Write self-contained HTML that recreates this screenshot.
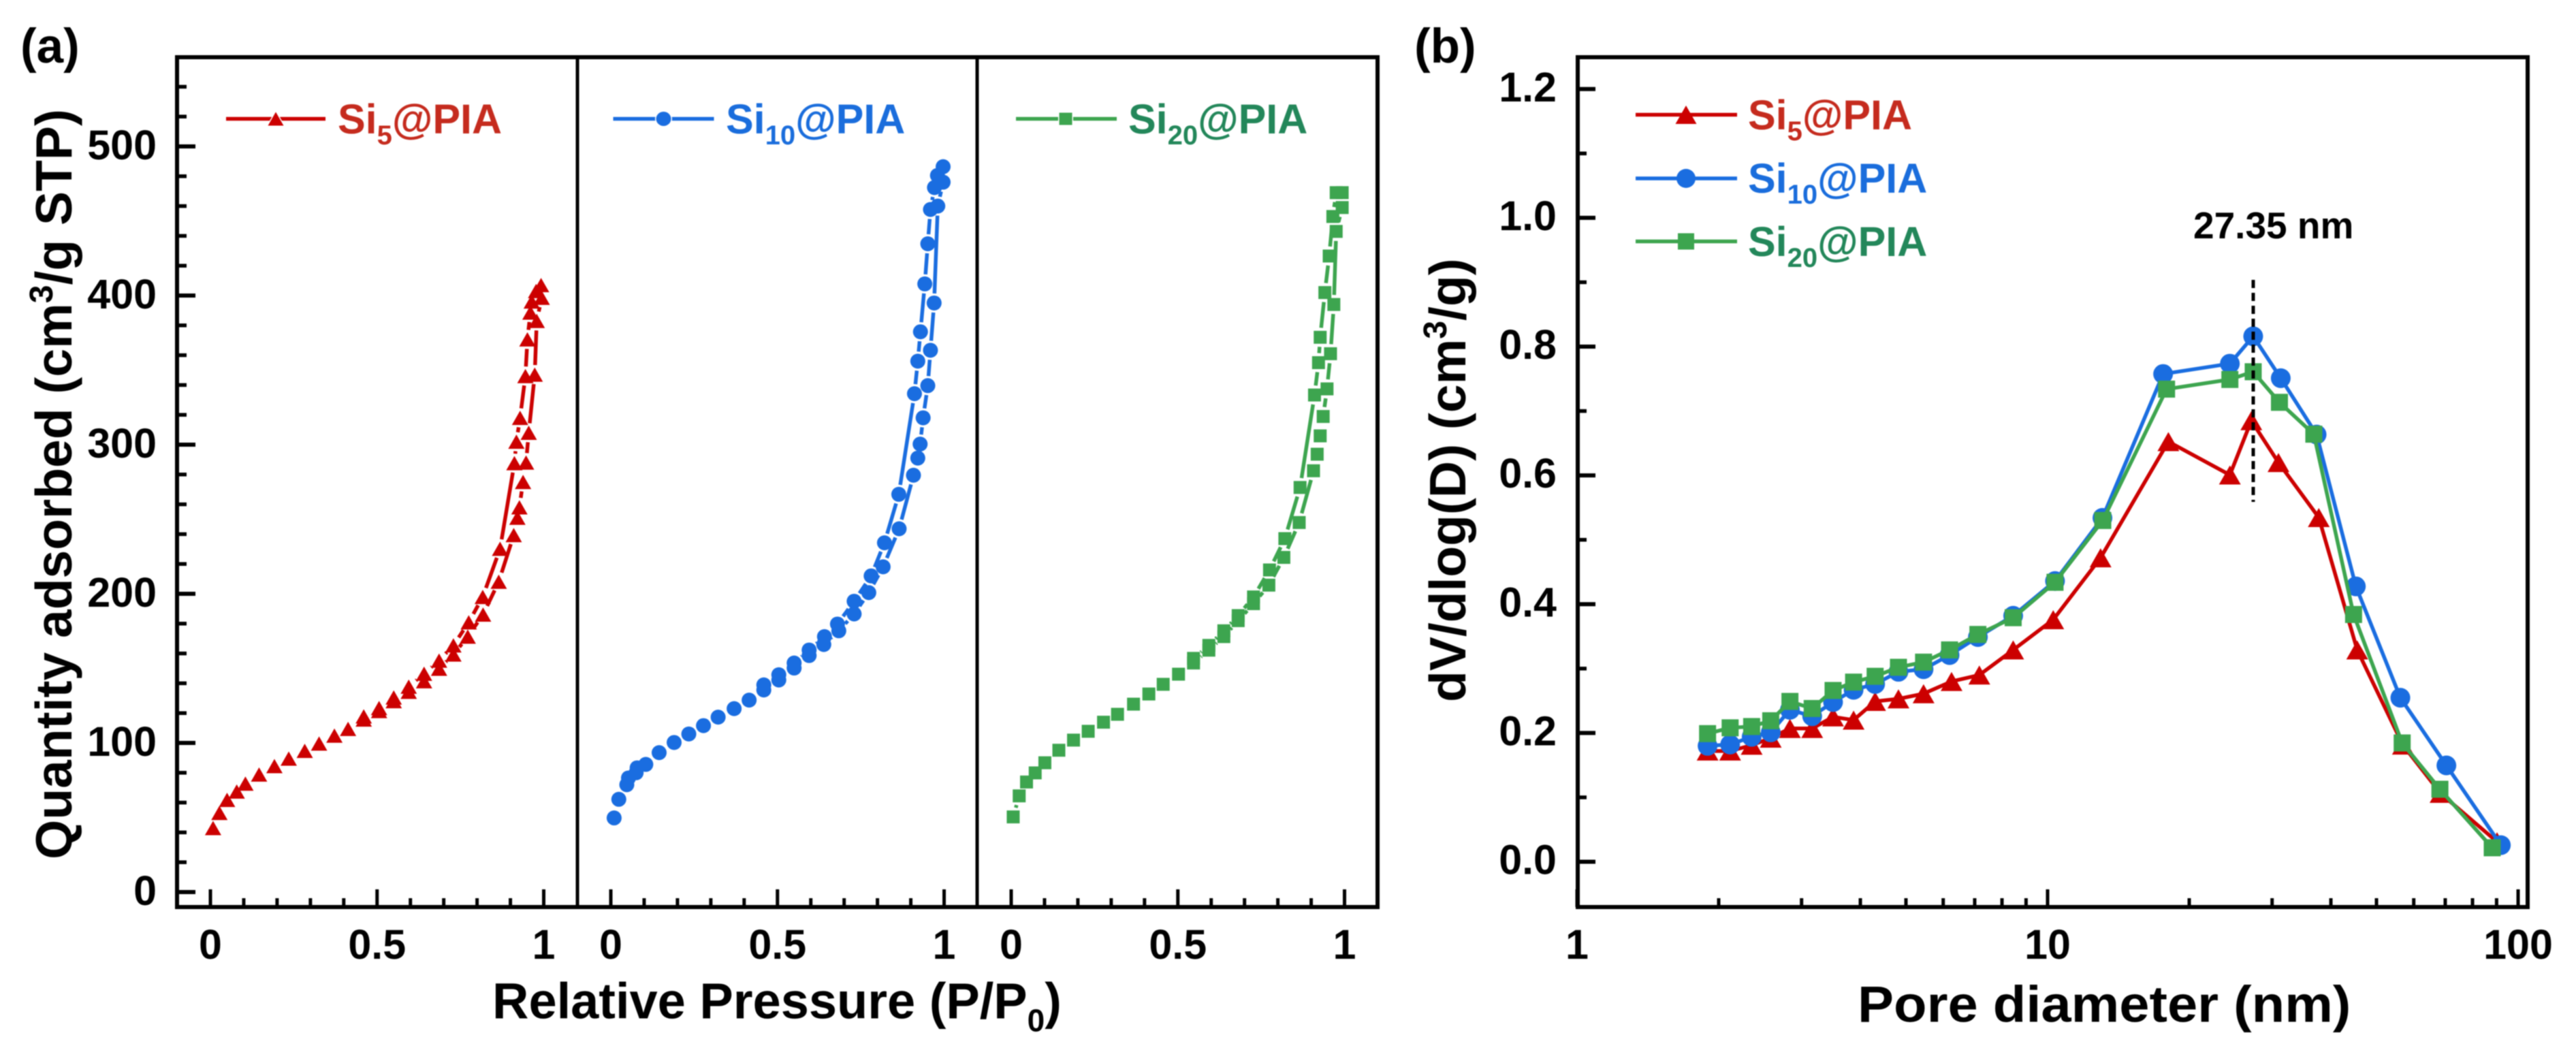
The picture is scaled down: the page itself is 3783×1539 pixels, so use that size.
<!DOCTYPE html>
<html lang="en">
<head>
<meta charset="utf-8">
<title>Si@PIA nitrogen sorption isotherms and pore size distribution</title>
<style>
html,body{margin:0;padding:0;background:#fff;overflow:hidden;}
svg{display:block;filter:blur(0.8px);}
text{font-family:"Liberation Sans",Arial,sans-serif;font-weight:bold;fill:#000;}
</style>
</head>
<body>
<svg id="figure" xmlns="http://www.w3.org/2000/svg" width="3783" height="1539" viewBox="0 0 3783 1539">
  <rect x="0" y="0" width="3783" height="1539" fill="#ffffff"/>

  <text x="30" y="92" font-size="71">(a)</text>
  <text x="2077" y="92" font-size="71">(b)</text>

  <text transform="translate(105,1262) rotate(-90)" font-size="75">Quantity adsorbed (cm<tspan font-size="48" dy="-28">3</tspan><tspan dy="28">/g STP)</tspan></text>
  <text x="723" y="1495.5" font-size="74">Relative Pressure (P/P<tspan font-size="46" dy="19">0</tspan><tspan dy="-19">)</tspan></text>
  <text transform="translate(2152,1031) rotate(-90)" font-size="75">dV/dlog(D) (cm<tspan font-size="48" dy="-28">3</tspan><tspan dy="28">/g)</tspan></text>
  <text transform="translate(2728,1500.5) scale(1.06,1)" font-size="75">Pore diameter (nm)</text>

  <g id="isotherm-axes"></g>
  <g id="pore-axes"></g>
  <g id="isotherm-series"></g>
  <g id="pore-series"></g>

  <line x1="3309" y1="411" x2="3309" y2="737" stroke="#000" stroke-width="5" stroke-dasharray="12 7"/>
  <text x="3221" y="350" font-size="55">27.35 nm</text>

  <g id="legends">
    <text x="496" y="196" font-size="61" style="fill:#c52b1e">Si<tspan font-size="40" dy="16">5</tspan><tspan dy="-16">@PIA</tspan></text>
    <text x="1066" y="196" font-size="61" style="fill:#1a6ddc">Si<tspan font-size="40" dy="16">10</tspan><tspan dy="-16">@PIA</tspan></text>
    <text x="1657" y="196" font-size="61" style="fill:#23875a">Si<tspan font-size="40" dy="16">20</tspan><tspan dy="-16">@PIA</tspan></text>
    <text x="2567" y="190" font-size="61" style="fill:#c52b1e">Si<tspan font-size="40" dy="16">5</tspan><tspan dy="-16">@PIA</tspan></text>
    <text x="2567" y="283" font-size="61" style="fill:#1a6ddc">Si<tspan font-size="40" dy="16">10</tspan><tspan dy="-16">@PIA</tspan></text>
    <text x="2567" y="376" font-size="61" style="fill:#23875a">Si<tspan font-size="40" dy="16">20</tspan><tspan dy="-16">@PIA</tspan></text>
  </g>
</svg>

<script>
// ---------- Panel (a) data: relative pressure / quantity adsorbed ----------
const si5AdsP = [.008,.027,.050,.079,.105,.146,.192,.235,.283,.326,.372,.413,.460,.506,.550,.595,.641,.686,.729,.772,.818,.865,.910,.921,.927,.938,.947,.955,.973,.979,.994];
const si5AdsQ = [42.9,53.1,61.8,67.4,72.7,78.8,84.5,89.5,94.7,99.6,104.9,109.4,115.7,121.4,128,134.3,141.4,149.8,159.3,171.3,186.1,208.1,239.4,251,258,275,288,308,347,383,398.5];
const si5DesP = [.992,.977,.964,.960,.951,.945,.929,.918,.912,.869,.817,.775,.729,.686,.641,.595,.550,.506,.460];
const si5DesQ = [407,403,396,388.6,370.6,346,318,302,287.6,230.2,197.9,180.9,165.4,155.2,146.4,137.7,130.5,123.4,117.8];

const si10AdsP = [.010,.024,.048,.053,.076,.079,.105,.145,.190,.234,.278,.322,.370,.415,.459,.504,.550,.595,.639,.684,.730,.774,.817,.865,.908,.921,.928,.937,.951,.959,.970,.981,.997];
const si10AdsQ = [49.7,62.2,72,76.5,80,83.3,85.6,93.5,100.3,106,111.6,117.3,123,128.7,135.5,142.2,150.2,158.6,166,175.2,186.5,200.8,218.1,243.6,279.5,291,300.4,318,339.6,363.3,395,460,476];
const si10DesP = [.997,.980,.971,.959,.951,.942,.929,.921,.911,.864,.821,.781,.730,.680,.641,.595,.550,.504,.459];
const si10DesQ = [486.4,480.5,472.4,457.7,434.7,407.8,375.7,356,334.2,266.7,234.2,212,195,179.7,171.3,162.3,153.6,145.7,138.9];

const si20AdsP = [.006,.024,.046,.072,.101,.143,.187,.231,.277,.319,.367,.413,.456,.502,.547,.593,.638,.681,.727,.773,.818,.864,.907,.918,.927,.936,.9475,.958,.968,.975,.993];
const si20AdsQ = [50.4,64.5,73.8,79.9,86.7,95.1,101.9,107.8,113.9,119.2,126,132.8,139.3,146.1,153.6,162.2,171.3,182,193.4,205.8,224.4,247.8,282.5,293.6,305.9,318.9,337.4,361,394,443,459];
const si20DesP = [.993,.975,.965,.954,.941,.927,.922,.910,.8667,.821,.775,.727,.681,.638,.593,.547];
const si20DesQ = [469,469,453,426.5,402,372,355,333.3,271.3,237,216,197.9,185.4,175.2,165.4,156.7];

// ---------- Panel (b) data: pore diameter / dV/dlog(D) ----------
const si5Diameter = [1.894,2.115,2.35,2.58,2.834,3.16,3.50,3.87,4.30,4.82,5.45,6.25,7.16,8.45,10.28,12.96,18.06,24.4,27.1,30.95,37.7,45.5,56.9,68.4,90.2];
const si5Volume = [.172,.172,.181,.192,.207,.207,.225,.220,.249,.253,.261,.280,.290,.329,.376,.472,.6525,.6007,.685,.62,.5346,.329,.1813,.1063,.031];
const si10Diameter = [1.894,2.115,2.35,2.58,2.834,3.16,3.50,3.87,4.30,4.82,5.45,6.19,7.11,8.45,10.37,13.08,17.6,24.4,27.35,31.3,37.3,45.2,56.2,70.4,91.9];
const si10Volume = [.180,.182,.194,.201,.236,.226,.248,.267,.276,.295,.299,.321,.349,.382,.436,.534,.7575,.7735,.816,.751,.6635,.4277,.2547,.1496,.0258];
const si20Diameter = [1.894,2.115,2.35,2.58,2.834,3.16,3.50,3.87,4.30,4.82,5.45,6.19,7.11,8.45,10.37,13.1,17.9,24.4,27.35,31.1,36.8,44.7,56.7,68.2,88.1];
const si20Volume = [.199,.208,.210,.219,.249,.238,.266,.279,.288,.302,.310,.329,.353,.379,.434,.530,.734,.749,.761,.7135,.664,.384,.1845,.1126,.0217];

// ---------- Tick data ----------
const quantityMajorTicks = [0,100,200,300,400,500];
const quantityMinorTicks = [20,40,60,80,120,140,160,180,220,240,260,280,320,340,360,380,420,440,460,480,520,540];
const pressureMajorTicks = [0,0.5,1];
const pressureMinorTicks = [0.1,0.2,0.3,0.4,0.6,0.7,0.8,0.9];
const pressureTickLabels = ['0','0.5','1'];
const volumeMajorTicks = [0,0.2,0.4,0.6,0.8,1.0,1.2];
const volumeMinorTicks = [0.1,0.3,0.5,0.7,0.9,1.1];
const diameterMajorTicks = [1,10,100];
const diameterMinorTicks = [2,3,4,5,6,7,8,9,20,30,40,50,60,70,80,90];

// ---------- Axis functions ----------
const NS = 'http://www.w3.org/2000/svg';
const RED = '#cc0000', BLUE = '#1a6de0', GREEN = '#3da54f';
function pressureX(panel, p) { return [309, 897, 1485][panel] + p * 489.5; }
function quantityY(q) { return 1310 - q * 2.19; }
function diameterX(d) { return 2316 + Math.log10(d) * 691; }
function volumeY(v) { return 1265.5 - v * 945.6; }

function make(parent, tag, name, attrs) {
  const el = document.createElementNS(NS, tag);
  
  
  for (const k in attrs) el.setAttribute(k, attrs[k]);
  parent.appendChild(el);
  return el;
}
function seg(parent, name, x1, y1, x2, y2, w, color) {
  return make(parent, 'line', name, {x1:x1, y1:y1, x2:x2, y2:y2, stroke:color || '#000', 'stroke-width':w});
}
function label(parent, name, x, y, txt, anchor, size) {
  const t = make(parent, 'text', name, {x:x, y:y, 'text-anchor':anchor, 'font-size':size});
  t.textContent = txt;
  return t;
}
function marker(parent, name, shape, cx, cy, w, h, color, halo) {
  const extra = halo ? {stroke:'#fff', 'stroke-width':halo, 'paint-order':'stroke'} : {};
  if (shape === 'triangle') {
    const pts = (cx) + ',' + (cy - h / 2) + ' ' + (cx + w / 2) + ',' + (cy + h / 2) + ' ' + (cx - w / 2) + ',' + (cy + h / 2);
    return make(parent, 'polygon', name, Object.assign({points:pts, fill:color}, extra));
  }
  if (shape === 'circle') {
    return make(parent, 'ellipse', name, Object.assign({cx:cx, cy:cy, rx:w / 2, ry:h / 2, fill:color}, extra));
  }
  return make(parent, 'rect', name, Object.assign({x:cx - w / 2, y:cy - h / 2, width:w, height:h, fill:color}, extra));
}

// ---------- Panel (a) axes ----------
const axA = document.getElementById('isotherm-axes');
make(axA, 'rect', 'isotherm-plot-frame', {x:260, y:84, width:1763, height:1248, fill:'none', stroke:'#000', 'stroke-width':6});
seg(axA, 'panel-separator-1', 848, 84, 848, 1332, 5);
seg(axA, 'panel-separator-2', 1435, 84, 1435, 1332, 5);
quantityMajorTicks.forEach(function (q) {
  seg(axA, 'y-major-tick-' + q, 260, quantityY(q), 287, quantityY(q), 6);
  label(axA, 'y-tick-label-' + q, 230, quantityY(q) + 19, String(q), 'end', 61);
});
quantityMinorTicks.forEach(function (q) {
  seg(axA, 'y-minor-tick-' + q, 260, quantityY(q), 274, quantityY(q), 5.5);
});
[0, 1, 2].forEach(function (panel) {
  pressureMajorTicks.forEach(function (p, i) {
    const x = pressureX(panel, p);
    seg(axA, 'x-major-tick-' + panel + '-' + i, x, 1332, x, 1306, 5);
    label(axA, 'x-tick-label-' + panel + '-' + i, x, 1408, pressureTickLabels[i], 'middle', 61);
  });
  pressureMinorTicks.forEach(function (p, i) {
    const x = pressureX(panel, p);
    seg(axA, 'x-minor-tick-' + panel + '-' + i, x, 1332, x, 1319, 5);
  });
});

// ---------- Panel (b) axes ----------
const axB = document.getElementById('pore-axes');
make(axB, 'rect', 'pore-plot-frame', {x:2317, y:84, width:1395, height:1248, fill:'none', stroke:'#000', 'stroke-width':6});
volumeMajorTicks.forEach(function (v) {
  seg(axB, 'pore-y-major-tick-' + v, 2317, volumeY(v), 2343, volumeY(v), 6);
  label(axB, 'pore-y-tick-label-' + v, 2286, volumeY(v) + 18, v.toFixed(1), 'end', 61);
});
volumeMinorTicks.forEach(function (v) {
  seg(axB, 'pore-y-minor-tick-' + v, 2317, volumeY(v), 2330, volumeY(v), 5.5);
});
diameterMajorTicks.forEach(function (d) {
  const x = diameterX(d);
  seg(axB, 'pore-x-major-tick-' + d, x, 1332, x, 1306, 5);
  label(axB, 'pore-x-tick-label-' + d, x, 1408, String(d), 'middle', 61);
});
diameterMinorTicks.forEach(function (d) {
  const x = diameterX(d);
  seg(axB, 'pore-x-minor-tick-' + d, x, 1332, x, 1319, 5);
});

// ---------- Panel (a) series: line segments keep a gap to each symbol ----------
const serA = document.getElementById('isotherm-series');
function drawBranch(panel, name, color, shape, w, h, ps, qs) {
  const g = make(serA, 'g', name, {});
  const gap = 14;
  const xy = ps.map(function (p, i) { return [pressureX(panel, p), quantityY(qs[i])]; });
  let d = '';
  for (let i = 1; i < xy.length; i++) {
    const dx = xy[i][0] - xy[i - 1][0], dy = xy[i][1] - xy[i - 1][1];
    const len = Math.hypot(dx, dy);
    if (len > 2 * gap + 1) {
      const ux = dx / len, uy = dy / len;
      d += 'M' + (xy[i - 1][0] + ux * gap) + ' ' + (xy[i - 1][1] + uy * gap) + 'L' + (xy[i][0] - ux * gap) + ' ' + (xy[i][1] - uy * gap);
    }
  }
  make(g, 'path', name + '-line', {d:d, fill:'none', stroke:color, 'stroke-width':5.5});
  xy.forEach(function (pt) {
    marker(g, name + '-point', shape, pt[0], pt[1], w, h, color);
  });
}
drawBranch(0, 'si5-adsorption', RED, 'triangle', 24, 21, si5AdsP, si5AdsQ);
drawBranch(0, 'si5-desorption', RED, 'triangle', 24, 21, si5DesP, si5DesQ);
drawBranch(1, 'si10-adsorption', BLUE, 'circle', 22, 22, si10AdsP, si10AdsQ);
drawBranch(1, 'si10-desorption', BLUE, 'circle', 22, 22, si10DesP, si10DesQ);
drawBranch(2, 'si20-adsorption', GREEN, 'square', 19, 19, si20AdsP, si20AdsQ);
drawBranch(2, 'si20-desorption', GREEN, 'square', 19, 19, si20DesP, si20DesQ);

// ---------- Panel (b) series ----------
const serB = document.getElementById('pore-series');
function drawPore(name, color, shape, w, h, ds, vs) {
  const g = make(serB, 'g', name, {});
  const pts = ds.map(function (d, i) { return diameterX(d) + ',' + volumeY(vs[i]); }).join(' ');
  make(g, 'polyline', name + '-line', {points:pts, fill:'none', stroke:color, 'stroke-width':5.5, 'stroke-linejoin':'round'});
  ds.forEach(function (d, i) {
    marker(g, name + '-point', shape, diameterX(d), volumeY(vs[i]), w, h, color);
  });
}
drawPore('pore-si5', RED, 'triangle', 32, 28, si5Diameter, si5Volume);
drawPore('pore-si10', BLUE, 'circle', 29, 29, si10Diameter, si10Volume);
drawPore('pore-si20', GREEN, 'square', 25, 25, si20Diameter, si20Volume);

// ---------- Legend keys ----------
const leg = document.getElementById('legends');
function legendKey(name, x1, x2, cx, y, color, shape, w, h, halo) {
  seg(leg, name + '-line', x1, y, x2, y, 5.5, color);
  marker(leg, name + '-symbol', shape, cx, y, w, h, color, halo);
}
legendKey('legend-key-si5-a', 332, 478, 405, 174.5, RED, 'triangle', 23, 20, 3);
legendKey('legend-key-si10-a', 900.5, 1048.5, 974.5, 174.5, BLUE, 'circle', 22, 21, 3);
legendKey('legend-key-si20-a', 1492, 1640, 1565, 174.5, GREEN, 'square', 19, 18, 3);
legendKey('legend-key-si5-b', 2402, 2551, 2476, 168.5, RED, 'triangle', 31, 27, 0);
legendKey('legend-key-si10-b', 2402, 2551, 2476, 262, BLUE, 'circle', 28, 28, 0);
legendKey('legend-key-si20-b', 2402, 2551, 2476, 354.5, GREEN, 'square', 24, 24, 0);
</script>
</body>
</html>
